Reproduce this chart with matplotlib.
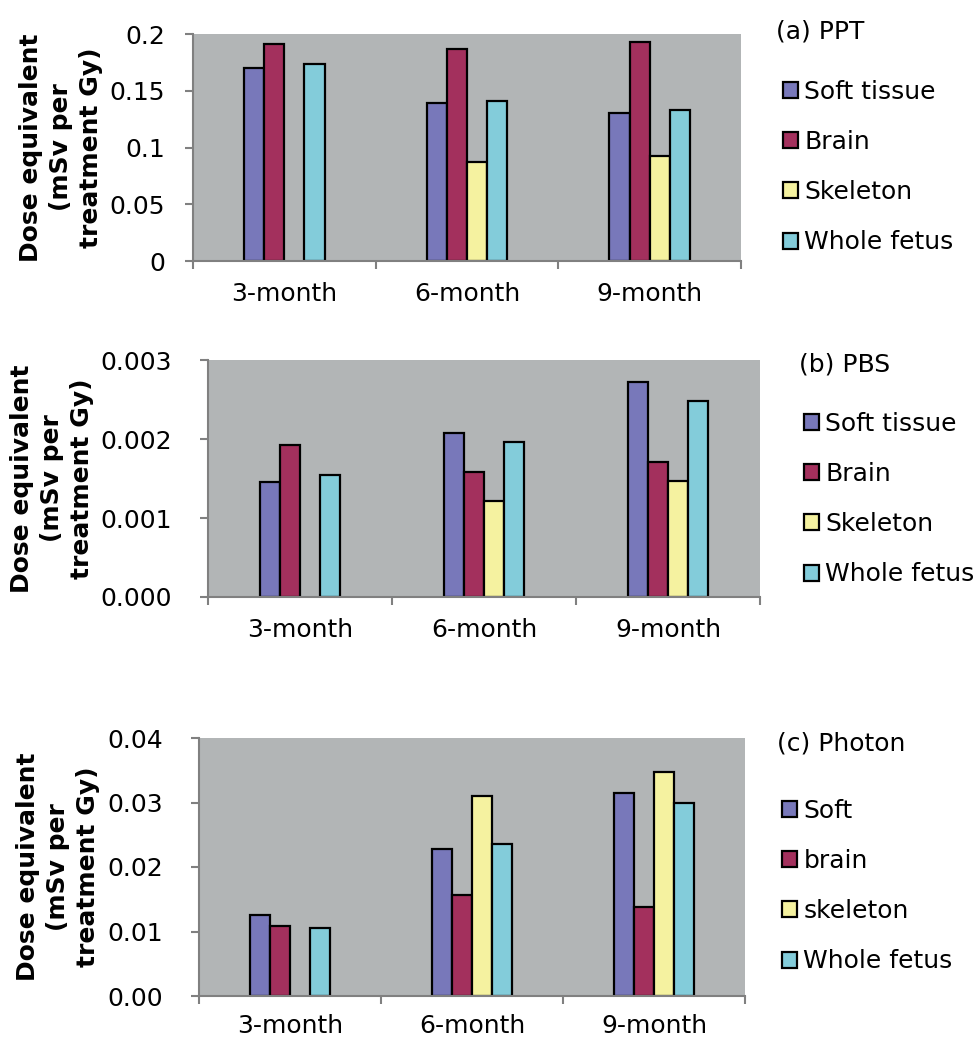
import numpy as np
import matplotlib
matplotlib.use('Agg')
import matplotlib.pyplot as plt
from matplotlib.ticker import FixedLocator, FuncFormatter

months = ['3-month', '6-month', '9-month']
labels_ab = ['Soft tissue', 'Brain', 'Skeleton', 'Whole fetus']
labels_c = ['Soft', 'brain', 'skeleton', 'Whole fetus']

# (a) PPT
ppt_soft = [0.170, 0.139, 0.130]
ppt_brain = [0.191, 0.1865, 0.193]
ppt_skel = [np.nan, 0.087, 0.0925]
ppt_whole = [0.1735, 0.141, 0.133]

# (b) PBS
pbs_soft = [0.00146, 0.00208, 0.00272]
pbs_brain = [0.00192, 0.00158, 0.00171]
pbs_skel = [np.nan, 0.00122, 0.00147]
pbs_whole = [0.00154, 0.00196, 0.00248]

# (c) Photon
photon_soft = [0.0126, 0.0228, 0.0315]
photon_brain = [0.0109, 0.0157, 0.0138]
photon_skel = [np.nan, 0.0310, 0.0348]
photon_whole = [0.0105, 0.0236, 0.0300]

colors = ['#7878BA', '#A3305D', '#F5F2A0', '#83CCDA']
bg = '#B2B5B6'
axis_col = '#808080'
FS = 18
W, H = 973, 1039

plt.rcParams['font.family'] = 'DejaVu Sans'
fig = plt.figure(figsize=(W / 100, H / 100), dpi=100)


def fx(px):
    return px / W


def fy(py):
    return 1 - py / H


def panel(box, series, labels, ymax, ystep, fmt, title, title_pos, leg_pos, ypad, xpad, ylab_x):
    left, top, right, bottom = box
    ax = fig.add_axes([fx(left), fy(bottom), fx(right - left), (bottom - top) / H])
    ax.set_facecolor(bg)
    x = np.arange(len(months)) + 0.5
    w = 0.11
    for i, vals in enumerate(series):
        ax.bar(x + (i - 1.5) * w, vals, w, color=colors[i], edgecolor='black',
               linewidth=1.6, label=labels[i])
    ax.set_xlim(0, 3)
    ax.set_ylim(0, ymax)
    for s in ['top', 'right']:
        ax.spines[s].set_visible(False)
    for s in ['left', 'bottom']:
        ax.spines[s].set_color(axis_col)
        ax.spines[s].set_linewidth(1.5)
    ax.xaxis.set_major_locator(FixedLocator([0, 1, 2, 3]))
    ax.xaxis.set_minor_locator(FixedLocator(list(x)))
    ax.set_xticklabels([])
    ax.set_xticklabels(months, minor=True)
    ax.tick_params(axis='x', which='major', length=6, width=1.5, color=axis_col, direction='out')
    ax.tick_params(axis='x', which='minor', length=0, pad=xpad, labelsize=FS)
    ax.set_yticks(np.arange(0, ymax + ystep / 2, ystep))
    ax.yaxis.set_major_formatter(FuncFormatter(fmt))
    ax.tick_params(axis='y', length=6, width=1.5, color=axis_col, direction='out',
                   pad=ypad, labelsize=FS)
    fig.text(fx(ylab_x), fy((top + bottom) / 2), 'Dose equivalent\n(mSv per\ntreatment Gy)',
             rotation=90, ha='center', va='center', multialignment='center',
             fontsize=FS, fontweight='bold', linespacing=1.3)
    fig.text(fx(title_pos[0]), fy(title_pos[1]), title, ha='left', va='center', fontsize=FS)
    ax.legend(loc='center left', bbox_to_anchor=(fx(leg_pos[0]), fy(leg_pos[1])),
              bbox_transform=fig.transFigure, frameon=False, fontsize=FS,
              handlelength=0.6, handleheight=0.6, handletextpad=0.25,
              labelspacing=1.05, borderpad=0, borderaxespad=0)
    return ax


panel((193, 34, 741, 261), [ppt_soft, ppt_brain, ppt_skel, ppt_whole], labels_ab,
      0.2, 0.05, lambda v, p: '%g' % round(v, 3), '(a) PPT', (776, 31), (783, 167),
      14, 15, 61)
panel((208, 360, 760, 597), [pbs_soft, pbs_brain, pbs_skel, pbs_whole], labels_ab,
      0.003, 0.001, lambda v, p: '%.3f' % v, '(b) PBS', (799, 365), (804, 499),
      20, 15, 52)
panel((199, 738, 745, 996), [photon_soft, photon_brain, photon_skel, photon_whole], labels_c,
      0.04, 0.01, lambda v, p: '%.2f' % v, '(c) Photon', (777, 743), (782, 886),
      20, 13, 58)

plt.savefig('out.png', dpi=100)
plt.close()
